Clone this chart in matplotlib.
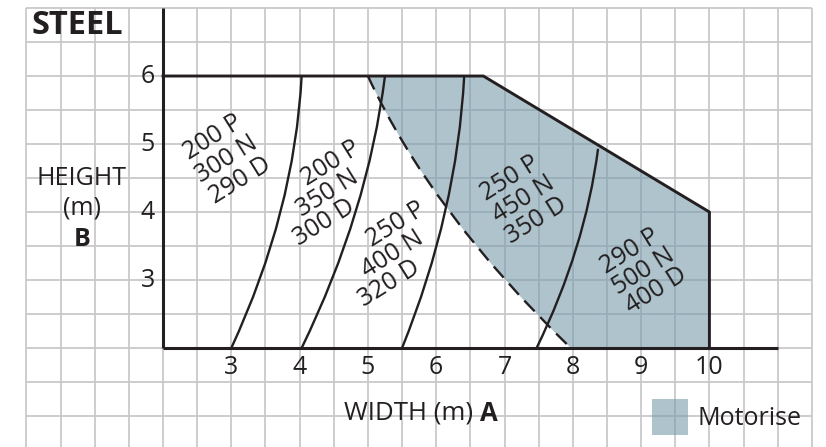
import numpy as np
import matplotlib
matplotlib.use("Agg")
import matplotlib.pyplot as plt
from matplotlib.path import Path
from matplotlib.patches import PathPatch, Rectangle

plt.rcParams["font.family"] = ["Open Sans", "DejaVu Sans"]
INK = "#231f20"; GRID = "#c9c9cd"; FILL = "#789baa"

# ---- data ----
x_ticks = [3, 4, 5, 6, 7, 8, 9, 10]
y_ticks = [3, 4, 5, 6]
grid_x = np.arange(0, 11.51, 0.5)
grid_y = np.arange(0.5, 7.01, 0.5)

# outline of the usable area: top at height 6, sloped edge, right edge at width 10
outline_x = [2, 6.69, 10, 10]
outline_y = [6, 6, 4, 2]

# solid limit curves (bottom point, bezier control, top point)
curve_bottom = [(3.0, 2), (4.03, 2), (5.5, 2), (7.47, 2)]
curve_ctrl = [(3.925, 4), (5.0, 4), (6.305, 4), (8.18, 3.465)]
curve_top = [(4.03, 6), (5.25, 6), (6.41, 6), (8.37, 4.93)]

# dashed edge of the motorised zone
dash_start = (5.0, 6); dash_ctrl = (5.915, 4); dash_end = (7.97, 2)

labels = [["200 P", "300 N", "290 D"], ["200 P", "350 N", "300 D"], ["250 P", "400 N", "320 D"],
          ["250 P", "450 N", "350 D"], ["290 P", "500 N", "400 D"]]
label_x = [2.93, 4.41, 5.36, 7.27, 9.03]     # centre of the middle line
label_y = [4.78, 4.28, 3.38, 4.19, 3.13]
# step from one line to the next (the middle two blocks are stacked straight down)
step_x = [0.198, -0.044, -0.048, 0.19, 0.19]
step_y = [-0.316, -0.44, -0.44, -0.31, -0.29]

fig = plt.figure(figsize=(8.26, 4.47), dpi=100)
ax = fig.add_axes([0, 0, 1, 1])
ax.set_xlim(-0.3865, 11.707); ax.set_ylim(0.544, 7.118)
ax.axis("off")

# background grid
for gx in grid_x:
    ax.plot([gx, gx], [0.3, 7], color=GRID, lw=1.3, zorder=1, solid_capstyle="butt")
for gy in grid_y:
    ax.plot([0, 11.5], [gy, gy], color=GRID, lw=1.3, zorder=1, solid_capstyle="butt")

# motorised zone
verts = [dash_start, (outline_x[1], outline_y[1]), (outline_x[2], outline_y[2]),
         (outline_x[3], outline_y[3]), dash_end, dash_ctrl, dash_start, dash_start]
codes = [Path.MOVETO, Path.LINETO, Path.LINETO, Path.LINETO, Path.LINETO,
         Path.CURVE3, Path.CURVE3, Path.CLOSEPOLY]
ax.add_patch(PathPatch(Path(verts, codes), facecolor=FILL, alpha=0.6, lw=0, zorder=2))

# axes + outline
ax.plot([2, 2], [2, 7], color=INK, lw=2.2, zorder=4, solid_capstyle="butt")
ax.plot([2, 11], [2, 2], color=INK, lw=2.2, zorder=4, solid_capstyle="butt")
ax.plot(outline_x, outline_y, color=INK, lw=2.1, zorder=4)

for b, c, t in zip(curve_bottom, curve_ctrl, curve_top):
    p = Path([b, c, t], [Path.MOVETO, Path.CURVE3, Path.CURVE3])
    ax.add_patch(PathPatch(p, facecolor="none", edgecolor=INK, lw=1.7, zorder=3))
p = Path([dash_start, dash_ctrl, dash_end], [Path.MOVETO, Path.CURVE3, Path.CURVE3])
ax.add_patch(PathPatch(p, facecolor="none", edgecolor=INK, lw=1.7, zorder=3,
                       linestyle=(0, (6.3, 3.4))))

# ticks
for v in x_ticks:
    ax.text(v, 1.72, str(v), ha="center", va="center", fontsize=18, color=INK, zorder=5)
for v in y_ticks:
    ax.text(1.88, v, str(v), ha="right", va="center", fontsize=18, color=INK, zorder=5)

# region labels, one line at a time
for lines, lx, ly, sx, sy in zip(labels, label_x, label_y, step_x, step_y):
    for k, s in enumerate(lines):
        ax.text(lx + (k - 1) * sx, ly + (k - 1) * sy, s, ha="center", va="center",
                rotation=32, rotation_mode="anchor", fontsize=18, color=INK, zorder=5)

# titles
ax.text(0.08, 6.75, "STEEL", ha="left", va="center", fontsize=23.5, fontweight="bold", color=INK, zorder=5)
ax.text(0.814, 4.49, "HEIGHT", ha="center", va="center", fontsize=18, color=INK, zorder=5)
ax.text(0.814, 4.06, "(m)", ha="center", va="center", fontsize=18, color=INK, zorder=5)
ax.text(0.814, 3.59, "B", ha="center", va="center", fontsize=18, fontweight="bold", color=INK, zorder=5)
ax.text(6.54, 1.044, "WIDTH (m)", ha="right", va="center", fontsize=18.5, color=INK, zorder=5)
ax.text(6.64, 1.044, "A", ha="left", va="center", fontsize=18.5, fontweight="bold", color=INK, zorder=5)

# legend
ax.add_patch(Rectangle((9.16, 0.72), 0.53, 0.53, facecolor=FILL, alpha=0.6, lw=0, zorder=5))
ax.text(9.83, 0.97, "Motorise", ha="left", va="center", fontsize=18, color=INK, zorder=5)

fig.savefig("out.png", dpi=100)
